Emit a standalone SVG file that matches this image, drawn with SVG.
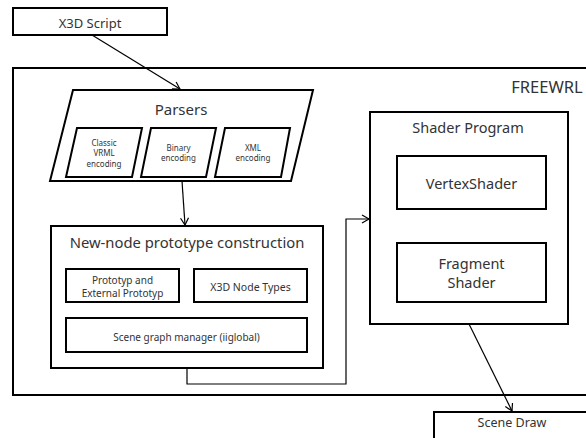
<svg xmlns="http://www.w3.org/2000/svg" width="586" height="438" viewBox="0 0 586 438">
<defs>
<style>
.box{fill:#fff;stroke:#000;stroke-width:2}
.outer{fill:#fff;stroke:#000;stroke-width:2}
.t{font-family:"Noto Sans","Open Sans",sans-serif;fill:#333;text-anchor:middle}
.conn{fill:none;stroke:#000;stroke-width:1.2}
</style>
<marker id="arr" markerWidth="10" markerHeight="10" refX="8" refY="5" orient="auto" markerUnits="userSpaceOnUse">
<path d="M1,1 L8,5 L1,9" fill="none" stroke="#000" stroke-width="1.2"/>
</marker>
</defs>
<rect width="586" height="438" fill="#fff"/>
<g id="freewrl">
<rect class="outer" x="13" y="68" width="580" height="327"/>
<text class="t" x="547" y="93" font-size="16.5">FREEWRL</text>
</g>
<g id="x3d-script">
<rect class="box" x="13" y="8" width="154" height="27"/>
<text class="t" x="90" y="27.5" font-size="13">X3D Script</text>
</g>
<g id="parsers">
<polygon class="box" points="73,90 313,90 291,181 50,181"/>
<text class="t" x="181" y="115" font-size="15">Parsers</text>
</g>
<g id="classic">
<polygon class="box" points="77,128 142,128 132,177 66,177"/>
<text class="t" x="104" y="145.5" font-size="8">Classic</text>
<text class="t" x="104" y="156" font-size="8">VRML</text>
<text class="t" x="104" y="166.5" font-size="8">encoding</text>
</g>
<g id="binary">
<polygon class="box" points="151,128 216,128 206,177 141,177"/>
<text class="t" x="178.5" y="150.5" font-size="8">Binary</text>
<text class="t" x="178.5" y="161" font-size="8">encoding</text>
</g>
<g id="xml">
<polygon class="box" points="225,128 290,128 281,177 215,177"/>
<text class="t" x="253" y="150.5" font-size="8">XML</text>
<text class="t" x="253" y="161" font-size="8">encoding</text>
</g>
<g id="newnode">
<rect class="box" x="51" y="226" width="272" height="142"/>
<text class="t" x="187" y="247.5" font-size="14.8">New-node prototype construction</text>
</g>
<g id="prototyp">
<rect class="box" x="66" y="269" width="113" height="33"/>
<text class="t" x="122.5" y="284" font-size="10">Prototyp and</text>
<text class="t" x="122.5" y="296.5" font-size="10">External Prototyp</text>
</g>
<g id="x3dnodetypes">
<rect class="box" x="194" y="269" width="113" height="33"/>
<text class="t" x="250.5" y="291" font-size="10.5">X3D Node Types</text>
</g>
<g id="scenegraph">
<rect class="box" x="66" y="318" width="241" height="34"/>
<text class="t" x="186.5" y="340.5" font-size="10">Scene graph manager (iiglobal)</text>
</g>
<g id="shader">
<rect class="box" x="370" y="112" width="198" height="212"/>
<text class="t" x="468" y="132.5" font-size="14.5">Shader Program</text>
</g>
<g id="vertex">
<rect class="box" x="397" y="156" width="149" height="53"/>
<text class="t" x="471.5" y="188.5" font-size="14.5">VertexShader</text>
</g>
<g id="fragment">
<rect class="box" x="397" y="243" width="149" height="59"/>
<text class="t" x="471.5" y="269" font-size="14.5">Fragment</text>
<text class="t" x="471.5" y="287.5" font-size="14.5">Shader</text>
</g>
<g id="scenedraw">
<rect class="box" x="434" y="412" width="160" height="40"/>
<text class="t" x="512" y="427" font-size="12.5">Scene Draw</text>
</g>
<g id="connectors">
<path class="conn" d="M92,35 L180,89" marker-end="url(#arr)"/>
<path class="conn" d="M182,181 L185,225" marker-end="url(#arr)"/>
<path class="conn" d="M187,368 L187,384 L346,384 L346,219 L369,219" marker-end="url(#arr)"/>
<path class="conn" d="M469,324 L512,411" marker-end="url(#arr)"/>
</g>
</svg>
